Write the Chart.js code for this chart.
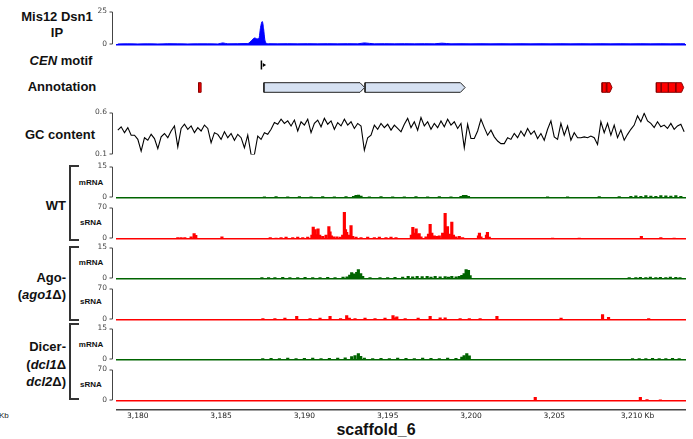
<!DOCTYPE html>
<html>
<head>
<meta charset="utf-8">
<script src="https://cdn.jsdelivr.net/npm/chart.js@4.4.1/dist/chart.umd.min.js"></script>
<style>
  body { margin: 0; background: #fff; }
  #page { position: relative; width: 693px; height: 439px; overflow: hidden; font-family: "Liberation Sans", Arial, sans-serif; color: #111; }
  #page canvas { position: absolute; left: 0; }
  .lab { position: absolute; font-weight: bold; font-size: 13px; line-height: 16px; white-space: nowrap; }
  .c { text-align: center; width: 94px; }
  .r { text-align: right; left: 0; width: 66px; }
  .sub { position: absolute; font-weight: bold; font-size: 8px; width: 30px; left: 76px; text-align: center; line-height: 10px; }
  .brk { position: absolute; left: 69px; width: 10px; border: 2px solid #333; border-right: none; box-sizing: border-box; }
</style>
</head>
<body>
<div id="page">
  <div class="lab c" style="left:10px;top:9px">Mis12 Dsn1<br>IP</div>
  <div class="lab c" style="left:14px;top:53px"><i>CEN</i> motif</div>
  <div class="lab c" style="left:15px;top:79px">Annotation</div>
  <div class="lab c" style="left:13px;top:127px">GC content</div>
  <div class="lab r" style="top:198px">WT</div>
  <div class="lab r" style="top:269px;line-height:17px">Ago-<br>(<i>ago1</i>Δ)</div>
  <div class="lab r" style="top:338px;line-height:17.5px">Dicer-<br>(<i>dcl1</i>Δ<br><i>dcl2</i>Δ)</div>
  <div class="brk" style="top:165px;height:76px"></div>
  <div class="brk" style="top:246px;height:75px"></div>
  <div class="brk" style="top:323px;height:77px"></div>
  <div class="sub" style="top:178px">mRNA</div>
  <div class="sub" style="top:218px">sRNA</div>
  <div class="sub" style="top:258px">mRNA</div>
  <div class="sub" style="top:297px">sRNA</div>
  <div class="sub" style="top:340px">mRNA</div>
  <div class="sub" style="top:380px">sRNA</div>
  <div style="position:absolute;left:-1px;top:411px;font-size:8px;color:#222">Kb</div>
  <div class="lab" style="left:296px;width:160px;text-align:center;top:421px;font-size:16px;line-height:18px">scaffold_6</div>
  <canvas id="ip"></canvas>
  <canvas id="cen"></canvas>
  <canvas id="ann"></canvas>
  <canvas id="gc"></canvas>
  <canvas id="wtM"></canvas>
  <canvas id="wtS"></canvas>
  <canvas id="agoM"></canvas>
  <canvas id="agoS"></canvas>
  <canvas id="dcM"></canvas>
  <canvas id="dcS"></canvas>
  <canvas id="axis"></canvas>
</div>
<script>
// region shown (kb on scaffold_6)
var xMin = 3178.75, xMax = 3212.85;
var xTicks = [3180, 3185, 3190, 3195, 3200, 3205, 3210];

// y ranges of the tracks
var ipRange = [0, 25];
var gcRange = [0.1, 0.6];
var mRange = [0, 15];
var sRange = [0, 70];

// Mis12 Dsn1 ChIP signal
var ipPos = [3178.8, 3179.4, 3180.0, 3180.6, 3181.2, 3181.8, 3182.4, 3183.0, 3183.6, 3184.2, 3184.8, 3185.1, 3185.4, 3186.0,
  3186.6, 3186.75, 3186.9, 3187.03, 3187.15, 3187.27, 3187.37, 3187.47, 3187.55, 3187.62, 3187.7, 3187.85,
  3188.4, 3189.0, 3189.6, 3190.2, 3190.8, 3191.4, 3192.0, 3192.6, 3193.2, 3193.6, 3194.2, 3194.8, 3195.4, 3196.0,
  3196.6, 3197.2, 3197.8, 3198.25, 3198.8, 3199.4, 3200.0, 3200.6, 3201.2, 3201.8, 3202.4, 3203.0, 3203.6, 3204.2,
  3204.8, 3205.4, 3206.0, 3206.6, 3207.2, 3207.8, 3208.4, 3209.0, 3209.6, 3210.2, 3210.8, 3211.4, 3212.0, 3212.6, 3212.85];
var ipVal = [0.4, 0.5, 0.4, 0.5, 0.4, 0.6, 0.5, 0.4, 0.5, 0.5, 0.4, 1.2, 0.5, 0.6,
  0.7, 2.0, 4.0, 5.0, 4.2, 4.5, 13.0, 17.4, 12.0, 4.0, 1.0, 0.6,
  0.5, 0.6, 0.5, 0.6, 0.5, 0.6, 0.5, 0.6, 0.5, 1.2, 0.5, 0.6, 0.5, 0.6,
  0.5, 0.6, 0.5, 1.0, 0.5, 0.6, 0.5, 0.6, 0.5, 0.6, 0.5, 0.6, 0.5, 0.6,
  0.5, 0.6, 0.5, 0.6, 0.5, 0.6, 0.5, 0.6, 0.5, 0.6, 0.5, 0.6, 0.5, 0.6, 0.5];

// CEN motif position
var cenPos = [3187.42];

// annotation features
var annStart = [3183.65, 3187.57, 3193.64, 3207.87, 3208.15, 3211.13, 3211.42, 3211.86, 3212.30];
var annEnd   = [3183.80, 3193.62, 3199.65, 3208.12, 3208.47, 3211.40, 3211.84, 3212.28, 3212.77];
var annFwd   = [false, true, true, false, true, false, false, false, true];
var annType  = ['rna', 'orf', 'orf', 'rna', 'rna', 'rna', 'rna', 'rna', 'rna'];

// GC content, 200 bp bins
var gcStart = 3178.8, gcStep = 0.2;
var gcVal = [0.39, 0.43, 0.36, 0.42, 0.33, 0.33, 0.28, 0.14, 0.30, 0.27,
  0.34, 0.29, 0.17, 0.31, 0.35, 0.30, 0.38, 0.44, 0.19, 0.41,
  0.46, 0.40, 0.44, 0.36, 0.42, 0.38, 0.45, 0.41, 0.24, 0.36,
  0.34, 0.28, 0.37, 0.30, 0.35, 0.27, 0.34, 0.30, 0.18, 0.33,
  0.10, 0.10, 0.32, 0.28, 0.36, 0.34, 0.40, 0.48, 0.46, 0.52,
  0.47, 0.50, 0.44, 0.51, 0.38, 0.49, 0.45, 0.52, 0.36, 0.47,
  0.51, 0.43, 0.53, 0.46, 0.50, 0.40, 0.48, 0.44, 0.52, 0.45,
  0.49, 0.41, 0.47, 0.44, 0.15, 0.30, 0.33, 0.45, 0.40, 0.47,
  0.42, 0.46, 0.39, 0.45, 0.41, 0.37, 0.46, 0.53, 0.42, 0.49,
  0.39, 0.54, 0.44, 0.49, 0.40, 0.47, 0.42, 0.50, 0.43, 0.52,
  0.45, 0.49, 0.41, 0.47, 0.18, 0.46, 0.29, 0.29, 0.38, 0.52,
  0.42, 0.33, 0.39, 0.31, 0.26, 0.23, 0.23, 0.30, 0.28, 0.35,
  0.30, 0.38, 0.32, 0.41, 0.34, 0.38, 0.29, 0.35, 0.27, 0.40,
  0.50, 0.31, 0.28, 0.47, 0.33, 0.44, 0.27, 0.36, 0.30, 0.30,
  0.31, 0.30, 0.32, 0.30, 0.22, 0.49, 0.36, 0.47, 0.33, 0.45,
  0.30, 0.39, 0.27, 0.34, 0.40, 0.45, 0.56, 0.49, 0.59, 0.50,
  0.47, 0.42, 0.49, 0.43, 0.45, 0.41, 0.47, 0.40, 0.44, 0.46,
  0.37];

// WT
var wtMPos = [3187.6, 3188.3, 3189.0, 3189.7, 3190.4, 3191.1, 3191.8, 3192.5, 3192.95, 3193.1, 3193.25, 3193.4, 3193.9,
  3194.6, 3195.3, 3196.0, 3196.7, 3197.4, 3198.1, 3198.8, 3199.4, 3199.55, 3199.7, 3199.85, 3204.6, 3205.8, 3207.7,
  3208.9, 3209.6, 3209.9, 3210.2, 3210.5, 3210.8, 3211.1, 3211.4, 3211.7, 3212.0, 3212.3, 3212.6];
var wtMVal = [0.3, 0.4, 0.3, 0.4, 0.3, 0.4, 0.3, 0.4, 0.6, 1.0, 1.2, 0.7, 0.3,
  0.4, 0.3, 0.3, 0.4, 0.3, 0.4, 0.3, 0.6, 1.0, 1.0, 0.6, 0.3, 0.3, 0.4,
  0.5, 0.6, 0.8, 0.6, 0.9, 0.7, 0.6, 0.9, 0.8, 0.7, 0.9, 0.6];
var wtSPos = [3182.4, 3182.6, 3182.82, 3183.2, 3183.38, 3183.48, 3185.05, 3187.95, 3188.3, 3188.6,
  3188.9, 3189.3, 3189.6, 3189.9, 3190.2, 3190.45, 3190.53, 3190.65, 3190.74, 3190.82,
  3190.92, 3191.1, 3191.3, 3191.47, 3191.54, 3191.62, 3191.75, 3191.95, 3192.15, 3192.3,
  3192.4, 3192.47, 3192.54, 3192.65, 3192.8, 3192.9, 3193.1, 3193.4, 3193.8, 3194.2,
  3194.5, 3194.9, 3195.2, 3195.5, 3196.42, 3196.51, 3196.6, 3196.71, 3196.8, 3196.89,
  3197.0, 3197.3, 3197.45, 3197.55, 3197.65, 3197.8, 3197.95, 3198.1, 3198.3, 3198.45,
  3198.52, 3198.59, 3198.7, 3198.85, 3198.95, 3199.1, 3199.3, 3199.5, 3200.45, 3200.51,
  3200.6, 3200.93, 3200.99, 3201.1, 3204.9, 3206.5, 3210.23, 3211.4, 3212.2];
var wtSVal = [2, 2, 2, 4, 11, 7, 4, 2, 1, 2,
  3, 2, 3, 2, 3, 8, 26, 20, 9, 22,
  8, 5, 8, 27, 15, 6, 4, 4, 3, 8,
  59, 20, 14, 8, 29, 5, 3, 2, 3, 2,
  3, 2, 3, 2, 8, 25, 12, 22, 10, 11,
  4, 4, 10, 32, 12, 6, 5, 6, 12, 57,
  20, 27, 10, 37, 8, 4, 5, 2, 6, 12,
  4, 8, 14, 3, 1, 1, 5, 2, 1];

// ago1 deletion
var agoMPos = [3187.45, 3187.85, 3188.23, 3188.7, 3189.13, 3189.6, 3190.04, 3190.5, 3190.94, 3191.4,
  3191.84, 3192.32, 3192.56, 3192.72, 3192.84, 3192.96, 3193.04, 3193.14, 3193.24, 3193.38,
  3193.5, 3193.94, 3194.54, 3195.0, 3195.44, 3195.9, 3196.23, 3196.5, 3196.77, 3197.07,
  3197.37, 3197.6, 3197.85, 3198.15, 3198.45, 3198.65, 3198.85, 3199.11, 3199.3, 3199.45,
  3199.59, 3199.71, 3199.85, 3199.95, 3209.5, 3209.9, 3210.17, 3210.5, 3210.77, 3211.1,
  3211.37, 3211.7, 3211.97, 3212.3, 3212.55];
var agoMVal = [0.4, 0.5, 0.4, 0.6, 0.5, 0.4, 0.6, 0.5, 0.5, 0.6,
  0.5, 0.7, 0.8, 1.6, 2.9, 2.2, 1.9, 3.0, 4.3, 2.4,
  1.0, 0.4, 0.5, 0.4, 0.6, 0.7, 1.0, 0.8, 1.0, 0.9,
  1.0, 0.7, 1.0, 0.8, 0.9, 0.7, 1.0, 0.8, 1.0, 1.5,
  2.4, 4.3, 3.9, 1.4, 0.4, 0.5, 0.6, 0.4, 0.7, 0.5,
  0.6, 0.5, 0.7, 0.6, 0.4];
var agoSPos = [3187.51, 3188.23, 3188.83, 3189.54, 3190.34, 3190.94, 3191.54, 3192.17, 3192.54, 3192.7,
  3193.04, 3193.64, 3194.24, 3194.84, 3195.32, 3195.45, 3195.55, 3196.05, 3196.83, 3197.55,
  3198.15, 3198.45, 3199.35, 3199.9, 3200.55, 3201.56, 3205.41, 3207.9, 3208.26, 3210.67];
var agoSVal = [2, 2, 3, 7, 2, 3, 7, 2, 9, 3,
  2, 3, 2, 3, 9, 4, 6, 2, 3, 7,
  4, 4, 2, 2, 2, 7, 3, 11, 5, 2];

// dcl1 dcl2 double deletion
var dcMPos = [3187.5, 3188.0, 3188.5, 3189.0, 3189.5, 3190.0, 3190.5, 3191.0, 3191.5, 3192.0,
  3192.45, 3192.84, 3193.04, 3193.24, 3193.38, 3193.6, 3194.1, 3194.6, 3195.1, 3195.6,
  3196.1, 3196.6, 3197.1, 3197.6, 3198.1, 3198.6, 3199.1, 3199.45, 3199.59, 3199.75,
  3199.9, 3209.7, 3210.1, 3210.5, 3210.9, 3211.3, 3211.7, 3212.1, 3212.5];
var dcMVal = [0.5, 0.6, 0.5, 0.7, 0.5, 0.6, 0.7, 0.5, 0.6, 0.7,
  0.8, 1.4, 1.9, 2.9, 1.5, 0.7, 0.5, 0.6, 0.5, 0.7,
  0.6, 0.5, 0.7, 0.6, 0.5, 0.7, 0.6, 1.2, 1.9, 2.9,
  1.8, 0.4, 0.5, 0.4, 0.6, 0.5, 0.4, 0.6, 0.5];
var dcSPos = [3203.86, 3210.17, 3210.57, 3211.37];
var dcSVal = [7, 7, 2, 1.5];

var BLUE = '#0000ff', GREEN = '#006400', RED = '#ff0000';
var annFill = { orf: '#d6e1f2', rna: '#ff0000' };
var annLine = { orf: '#222222', rna: '#8b0000' };

function pts(xs, ys) {
  return xs.map(function (x, i) { return { x: x, y: ys[i] }; });
}
function kbLabel(v) {
  var r = String(v % 1000);
  while (r.length < 3) r = '0' + r;
  return Math.floor(v / 1000) + ',' + r;
}

// "]" shaped value axis next to each track
Chart.register({
  id: 'bracket',
  afterDraw: function (chart, args, o) {
    if (!o || !o.show) return;
    var a = chart.chartArea, c = chart.ctx, x = Math.round(a.left) - 4.5;
    c.save();
    c.strokeStyle = '#444';
    c.lineWidth = 1;
    c.beginPath();
    c.moveTo(x - 3, a.top + 0.5);
    c.lineTo(x, a.top + 0.5);
    c.lineTo(x, a.bottom - 0.5);
    c.lineTo(x - 3, a.bottom - 0.5);
    c.stroke();
    c.restore();
  }
});

function trackConfig(cfg) {
  var yScale = cfg.range ? {
    min: cfg.range[0], max: cfg.range[1],
    afterFit: function (s) { s.width = 117; },
    afterBuildTicks: function (s) { s.ticks = cfg.range.map(function (v) { return { value: v }; }); },
    grid: { display: false, drawTicks: false },
    border: { display: false },
    ticks: {
      padding: 10, autoSkip: false, color: '#444',
      font: { family: 'DejaVu Sans', size: 7.5 },
      callback: function (v) { return cfg.fmt ? cfg.fmt(v) : String(v); }
    }
  } : { display: false, min: 0, max: 1 };
  return {
    type: cfg.type || 'line',
    data: { datasets: cfg.datasets },
    options: {
      responsive: false,
      maintainAspectRatio: false,
      animation: false,
      events: [],
      layout: { padding: { left: cfg.range ? 0 : 117, right: 8, top: 0, bottom: 0 } },
      plugins: { legend: { display: false }, tooltip: { enabled: false }, bracket: { show: !!cfg.range } },
      scales: {
        x: {
          type: 'linear', min: xMin, max: xMax, offset: false,
          ticks: { display: false },
          grid: { display: false, drawTicks: false },
          border: { display: !!cfg.base, color: cfg.base || '#000', width: 1.5 },
          afterFit: function (s) { s.height = 0; }
        },
        y: yScale
      }
    }
  };
}

// build once to measure how much room Chart.js keeps around the plot,
// then rebuild so the plot area spans exactly top..bottom on the page
function makeTrack(id, top, bottom, cfg) {
  var cv = document.getElementById(id);
  cv.width = 693;
  cv.height = bottom - top + 40;
  var probe = new Chart(cv, trackConfig(cfg));
  var offTop = probe.chartArea.top, offBot = cv.height - probe.chartArea.bottom;
  probe.destroy();
  cv.width = 693;
  cv.height = Math.round(bottom - top + offTop + offBot);
  cv.style.top = (top - offTop) + 'px';
  return new Chart(cv, trackConfig(cfg));
}

function rnaBars(pos, val, color) {
  return [{ type: 'bar', data: pts(pos, val), backgroundColor: color, borderWidth: 0, barThickness: 2.5 }];
}

// ChIP
makeTrack('ip', 11, 44, {
  range: ipRange, base: BLUE,
  datasets: [{
    data: pts(ipPos, ipVal), borderColor: BLUE, backgroundColor: BLUE, borderWidth: 1,
    pointRadius: 0, fill: 'origin', cubicInterpolationMode: 'monotone'
  }]
});

// CEN motif
makeTrack('cen', 56, 74, {
  datasets: [
    { data: cenPos.map(function (p) { return { x: p, y: 0.5 }; }), showLine: false,
      pointStyle: 'line', pointRotation: 90, pointRadius: 4.5, borderColor: '#000', borderWidth: 1.5 },
    { data: cenPos.map(function (p) { return { x: p + 0.15, y: 0.5 }; }), showLine: false,
      pointStyle: 'triangle', pointRotation: 90, pointRadius: 2.2, backgroundColor: '#000', borderColor: '#000', borderWidth: 0 }
  ]
});

// annotation
var annSets = annStart.map(function (s, i) {
  var e = annEnd[i], lo = 0.18, hi = 0.82;
  var a = annFwd[i] ? Math.min(annType[i] === 'orf' ? 0.28 : 0.13, (e - s) * 0.5) : 0;
  var poly = a ? [[s, lo], [e - a, lo], [e, 0.5], [e - a, hi], [s, hi], [s, lo]]
               : [[s, lo], [e, lo], [e, hi], [s, hi], [s, lo]];
  return {
    data: poly.map(function (p) { return { x: p[0], y: p[1] }; }),
    borderColor: annLine[annType[i]], backgroundColor: annFill[annType[i]], borderWidth: 1,
    pointRadius: 0, fill: 'shape', tension: 0
  };
});
makeTrack('ann', 80, 95, { datasets: annSets });

// GC content
makeTrack('gc', 112, 154, {
  range: gcRange, fmt: function (v) { return v.toFixed(1); },
  datasets: [{
    data: gcVal.map(function (v, i) { return { x: gcStart + i * gcStep, y: v }; }),
    borderColor: '#000', borderWidth: 1.1, pointRadius: 0, fill: false, tension: 0
  }]
});

// RNA tracks
makeTrack('wtM', 166, 197, { type: 'bar', range: mRange, base: GREEN, datasets: rnaBars(wtMPos, wtMVal, GREEN) });
makeTrack('wtS', 207, 238, { type: 'bar', range: sRange, base: RED, datasets: rnaBars(wtSPos, wtSVal, RED) });
makeTrack('agoM', 247, 278, { type: 'bar', range: mRange, base: GREEN, datasets: rnaBars(agoMPos, agoMVal, GREEN) });
makeTrack('agoS', 288, 319, { type: 'bar', range: sRange, base: RED, datasets: rnaBars(agoSPos, agoSVal, RED) });
makeTrack('dcM', 328, 359, { type: 'bar', range: mRange, base: GREEN, datasets: rnaBars(dcMPos, dcMVal, GREEN) });
makeTrack('dcS', 369, 400, { type: 'bar', range: sRange, base: RED, datasets: rnaBars(dcSPos, dcSVal, RED) });

// coordinate axis
var axCv = document.getElementById('axis');
axCv.width = 693;
axCv.height = 39;
axCv.style.top = '400px';
new Chart(axCv, {
  type: 'line',
  data: { datasets: [] },
  options: {
    responsive: false, maintainAspectRatio: false, animation: false, events: [],
    layout: { padding: { left: 117, right: 8, top: 0, bottom: 0 } },
    plugins: { legend: { display: false }, tooltip: { enabled: false } },
    scales: {
      x: {
        type: 'linear', min: xMin, max: xMax,
        afterBuildTicks: function (s) { s.ticks = xTicks.map(function (v) { return { value: v }; }); },
        afterFit: function (s) { s.height = 29; },
        grid: { display: false, drawTicks: false },
        border: { display: true, color: '#444', width: 1.5 },
        ticks: {
          padding: 2, autoSkip: false, maxRotation: 0, color: '#222',
          font: { family: 'DejaVu Sans', size: 7.5 },
          callback: function (v, i) { return kbLabel(v) + (i === xTicks.length - 1 ? ' Kb' : ''); }
        }
      },
      y: { display: false }
    }
  }
});
</script>
</body>
</html>
